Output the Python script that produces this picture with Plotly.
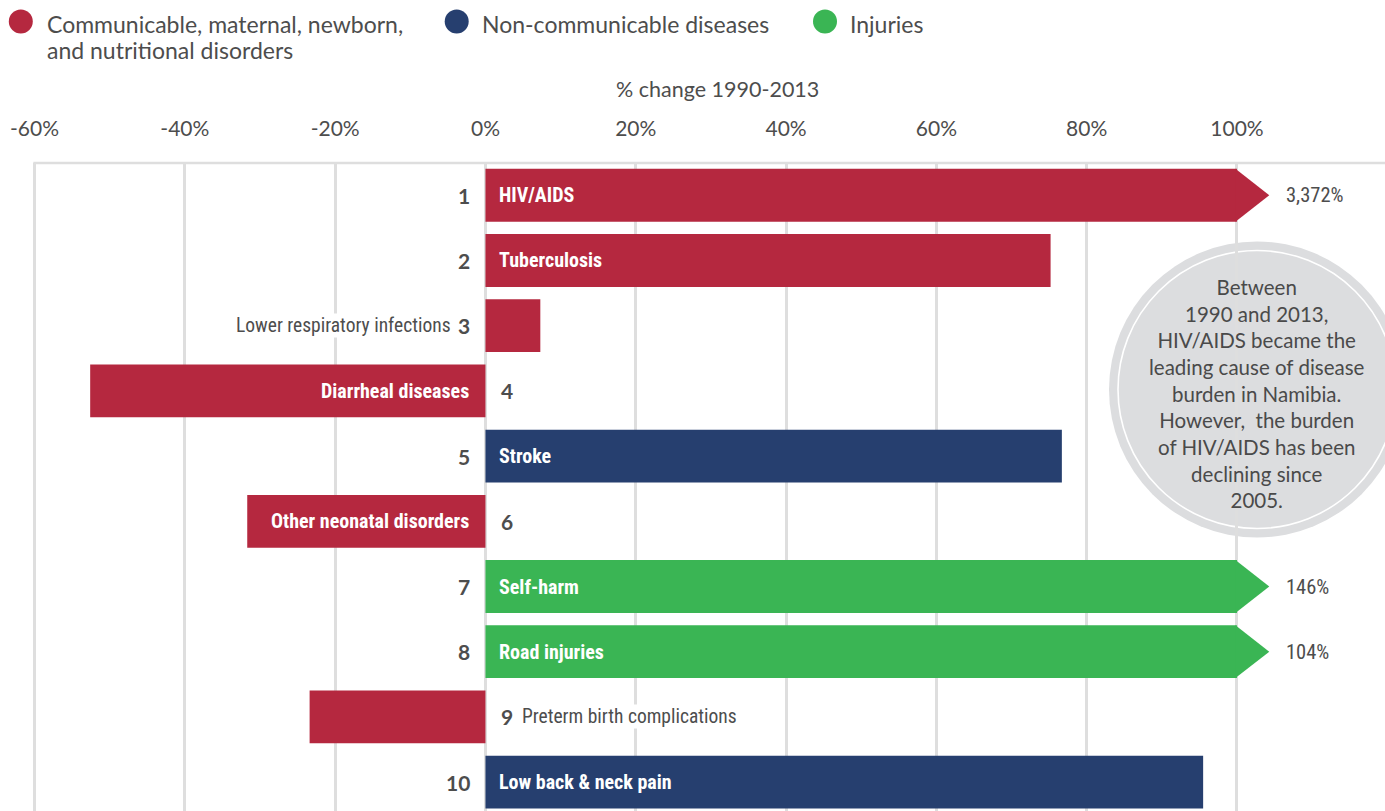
import plotly.graph_objects as go

# ---- data -------------------------------------------------------------
ranks = [1, 2, 3, 4, 5, 6, 7, 8, 9, 10]
causes = [
    "HIV/AIDS", "Tuberculosis", "Lower respiratory infections",
    "Diarrheal diseases", "Stroke", "Other neonatal disorders",
    "Self-harm", "Road injuries", "Preterm birth complications",
    "Low back & neck pain",
]
pct_change = [3372, 75.2, 7.3, -52.6, 76.7, -31.7, 146, 104, -23.4, 95.5]
groups = ["cmnn", "cmnn", "cmnn", "cmnn", "ncd", "cmnn", "inj", "inj", "cmnn", "ncd"]

group_keys = ["cmnn", "ncd", "inj"]
group_names = [
    ["Communicable, maternal, newborn,", "and nutritional disorders"],
    ["Non-communicable diseases"],
    ["Injuries"],
]
group_colors = ["#b5283f", "#263f6f", "#3ab554"]

tick_vals = [-60, -40, -20, 0, 20, 40, 60, 80, 100]
axis_title = "% change 1990-2013"
note_lines = [
    "Between", "1990 and 2013,", "HIV/AIDS became the",
    "leading cause of disease", "burden in Namibia.",
    "However,  the burden", "of HIV/AIDS has been",
    "declining since", "2005.",
]

# ---- layout constants --------------------------------------------------
W, H = 1385, 811
PLOT_TOP = 163                      # pixel row of the top frame line
X_RANGE = [-64.6, 119.7]
Y_RANGE = [10.443, 0.505]
BAR_W = 0.81
CAP = 100                           # bars beyond this get an arrow head
ARROW = 4.3
INSIDE_MIN = 30                     # shorter bars get their name outside

SANS = "Lato, 'Noto Sans', sans-serif"
NARROW = ("'Noto Sans Condensed', 'Liberation Sans Narrow', "
          "'Roboto Condensed', Roboto, sans-serif")
GRID = "#dedede"
TEXT = "#4d4d4d"

color_of = dict(zip(group_keys, group_colors))


def px_x(p):
    return p / W


def px_y(p):
    return 1 - p / H


fig = go.Figure()

# bars, one trace per cause group
for key in group_keys:
    idx = [i for i, g in enumerate(groups) if g == key]
    fig.add_trace(go.Bar(
        orientation="h",
        y=[ranks[i] for i in idx],
        x=[min(pct_change[i], CAP) for i in idx],
        width=BAR_W,
        marker=dict(color=color_of[key], line=dict(width=0)),
        hoverinfo="skip",
        showlegend=False,
    ))

# arrow heads for values past the cap
for r, v, g in zip(ranks, pct_change, groups):
    if v > CAP:
        fig.add_trace(go.Scatter(
            x=[CAP - 0.2, CAP + ARROW, CAP - 0.2, CAP - 0.2],
            y=[r - BAR_W / 2, r, r + BAR_W / 2, r - BAR_W / 2],
            mode="lines", fill="toself",
            fillcolor=color_of[g], line=dict(width=0),
            hoverinfo="skip", showlegend=False,
        ))

annotations = []

# rank numbers, cause names and capped values
for r, name, v in zip(ranks, causes, pct_change):
    pos = v >= 0
    annotations.append(dict(
        x=0, y=r, xref="x", yref="y", text=str(r), showarrow=False,
        xanchor="right" if pos else "left", xshift=-13 if pos else 14,
        font=dict(family=SANS, size=21, color=TEXT, weight="bold"),
    ))
    if abs(v) >= INSIDE_MIN:
        annotations.append(dict(
            x=0, y=r, xref="x", yref="y", text=name, showarrow=False,
            xanchor="left" if pos else "right", xshift=12 if pos else -14,
            font=dict(family=NARROW, size=20, color="white", weight="bold"),
        ))
    else:
        annotations.append(dict(
            x=0, y=r, xref="x", yref="y", text=name, showarrow=False,
            xanchor="right" if pos else "left", xshift=-33 if pos else 36,
            bgcolor="white", borderpad=0,
            font=dict(family=NARROW, size=19.5, color=TEXT),
        ))
    if v > CAP:
        annotations.append(dict(
            x=CAP + ARROW, y=r, xref="x", yref="y", text=f"{v:,.0f}%",
            showarrow=False, xanchor="left", xshift=15,
            font=dict(family=NARROW, size=20.5, color=TEXT),
        ))

# axis title
annotations.append(dict(
    x=px_x(717), y=px_y(89), xref="paper", yref="paper", text=axis_title,
    showarrow=False, xanchor="center", yanchor="middle",
    font=dict(family=SANS, size=21.5, color=TEXT),
))

# legend: dots plus one annotation per text line
legend_dots = [20.8, 456.7, 825]
legend_text_x = [45, 480, 848]
legend_line_y = [23.5, 50]
shapes = []
for cx, tx, lines, col in zip(legend_dots, legend_text_x, group_names, group_colors):
    shapes.append(dict(
        type="circle", xref="paper", yref="paper",
        xsizemode="pixel", ysizemode="pixel",
        xanchor=px_x(cx), yanchor=px_y(21.5),
        x0=-12, x1=12, y0=-12, y1=12,
        fillcolor=col, line=dict(width=0),
    ))
    for ly, line in zip(legend_line_y, lines):
        annotations.append(dict(
            x=px_x(tx), y=px_y(ly), xref="paper", yref="paper", text=line,
            showarrow=False, xanchor="left", yanchor="middle", align="left",
            font=dict(family=SANS, size=23, color=TEXT),
        ))

# top frame line, starting at the leftmost gridline
frac = lambda v: (v - X_RANGE[0]) / (X_RANGE[1] - X_RANGE[0])
shapes.append(dict(
    type="line", xref="paper", yref="paper",
    x0=frac(tick_vals[0]) - 0.0009, x1=1, y0=px_y(PLOT_TOP), y1=px_y(PLOT_TOP),
    line=dict(color=GRID, width=2.5),
))

# note bubble
cx, cy, R = 1257, 389.5, 148
shapes.append(dict(
    type="circle", xref="paper", yref="paper",
    xsizemode="pixel", ysizemode="pixel",
    xanchor=px_x(cx), yanchor=px_y(cy),
    x0=-R, x1=R, y0=-R, y1=R,
    fillcolor="#dcdddf", line=dict(width=0), layer="between",
))
r2 = R - 9
shapes.append(dict(
    type="circle", xref="paper", yref="paper",
    xsizemode="pixel", ysizemode="pixel",
    xanchor=px_x(cx), yanchor=px_y(cy),
    x0=-r2, x1=r2, y0=-r2, y1=r2,
    fillcolor="rgba(0,0,0,0)", line=dict(color="white", width=1.6),
    layer="between",
))
annotations.append(dict(
    x=px_x(cx), y=px_y(393), xref="paper", yref="paper",
    text="<br>".join(note_lines), showarrow=False,
    xanchor="center", yanchor="middle", align="center",
    font=dict(family=SANS, size=20.5, color="#4a4a4a"),
))

fig.update_layout(
    width=W, height=H, autosize=False,
    margin=dict(l=0, r=0, t=0, b=0),
    paper_bgcolor="white", plot_bgcolor="white",
    barmode="overlay",
    xaxis=dict(
        range=X_RANGE, side="top", domain=[0, 1],
        tickvals=tick_vals, ticktext=[f"{t}%" for t in tick_vals],
        ticks="outside", ticklen=18, tickcolor="rgba(0,0,0,0)",
        tickfont=dict(family=SANS, size=21, color=TEXT),
        showgrid=True, gridcolor=GRID, gridwidth=2.5,
        zeroline=False, showline=False, fixedrange=True,
    ),
    yaxis=dict(
        range=Y_RANGE, domain=[0, 1 - PLOT_TOP / H], visible=False,
        showgrid=False, zeroline=False, fixedrange=True,
    ),
    shapes=shapes,
    annotations=annotations,
)

fig.write_html("out.html")
